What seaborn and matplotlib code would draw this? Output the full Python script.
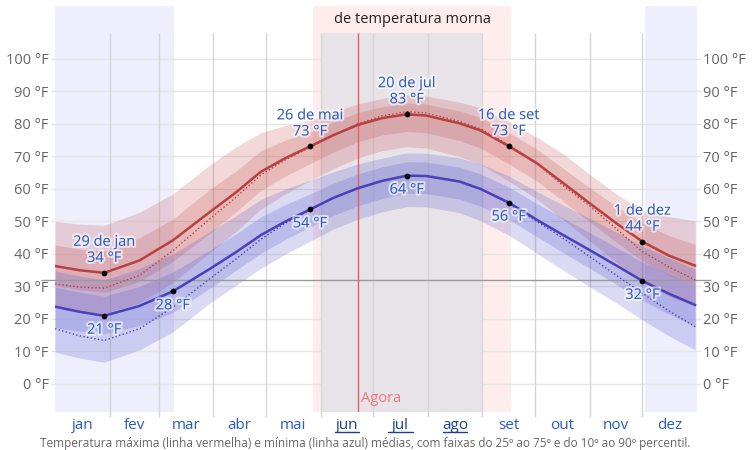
import numpy as np
import pandas as pd
import seaborn as sns
import matplotlib.pyplot as plt
import matplotlib.patheffects as pe

# day of year for each reading (0 = 1 jan)
days = [0, 14, 28, 48, 67, 88, 103, 117, 131, 145, 158, 172, 186,
        200, 211, 230, 242, 258, 274, 289, 304, 319, 334, 349, 364]

# average high / low (°F)
hi = [36.3, 35.0, 34.2, 38.0, 44.2, 52.9, 59.0, 65.3, 69.5, 73.1, 76.5, 79.7, 81.8,
      83.0, 82.6, 80.2, 78.0, 73.2, 67.9, 61.8, 55.6, 49.5, 43.8, 39.5, 36.4]
lo = [23.8, 22.2, 21.0, 24.0, 28.5, 35.4, 40.6, 45.8, 50.0, 53.7, 57.2, 60.2, 62.5,
      64.1, 64.0, 62.3, 60.0, 55.8, 50.5, 45.8, 41.2, 36.5, 31.7, 27.8, 24.3]

# dotted lines
hi_dot = [30.8, 29.8, 29.5, 33.4, 41.0, 50.8, 57.5, 64.3, 69.0, 72.8, 76.5, 80.0, 82.5,
          83.8, 83.4, 80.8, 78.5, 73.5, 67.9, 61.0, 54.8, 47.8, 40.7, 36.0, 32.0]
lo_dot = [17.0, 14.8, 13.4, 17.0, 23.6, 32.4, 38.5, 44.5, 49.5, 53.5, 57.2, 60.2, 62.5,
          64.1, 64.0, 62.3, 60.0, 55.5, 50.0, 44.8, 39.2, 33.5, 27.9, 22.5, 17.6]

# percentile bands for the high
hi_p90 = [50.0, 49.2, 48.8, 52.8, 58.5, 67.4, 73.0, 77.3, 79.5, 81.1, 83.5, 86.2, 87.8,
          89.0, 88.6, 86.7, 85.0, 80.7, 75.9, 70.8, 64.5, 58.5, 53.5, 51.5, 50.2]
hi_p75 = [42.8, 41.5, 41.0, 45.0, 50.7, 59.9, 65.5, 71.8, 75.0, 77.6, 80.5, 83.5, 85.3,
          86.5, 86.1, 84.0, 82.0, 77.4, 72.2, 66.3, 60.4, 54.7, 49.6, 45.7, 42.9]
hi_p25 = [30.3, 29.0, 28.2, 31.5, 37.7, 46.4, 53.0, 59.5, 64.0, 67.8, 71.3, 74.5, 76.6,
          77.7, 77.3, 74.9, 72.6, 67.7, 62.4, 56.2, 49.9, 43.7, 37.8, 33.5, 30.4]
hi_p10 = [23.8, 22.5, 21.7, 25.0, 31.2, 40.4, 47.0, 53.8, 58.5, 62.6, 66.2, 69.5, 71.8,
          73.0, 72.6, 70.0, 67.6, 62.4, 56.9, 50.5, 44.0, 37.5, 31.5, 27.0, 23.9]

# percentile bands for the low
lo_p90 = [34.8, 33.2, 32.0, 35.5, 40.0, 46.9, 51.8, 56.8, 60.0, 62.7, 65.2, 67.7, 69.5,
          71.1, 71.0, 69.6, 67.7, 64.0, 59.2, 55.0, 51.0, 46.8, 42.4, 38.8, 35.3]
lo_p75 = [29.8, 28.2, 27.0, 30.0, 34.5, 41.2, 46.2, 51.4, 55.2, 58.5, 61.7, 64.6, 66.8,
          68.4, 68.3, 66.7, 64.6, 60.6, 55.5, 51.0, 46.6, 42.1, 37.5, 33.8, 30.3]
lo_p25 = [17.3, 16.2, 15.5, 18.0, 22.0, 29.4, 35.0, 40.2, 44.5, 48.3, 51.8, 54.8, 57.1,
          58.7, 58.6, 56.9, 54.7, 50.6, 45.3, 40.4, 35.6, 30.7, 25.7, 21.5, 17.8]
lo_p10 = [9.8, 8.0, 6.7, 10.5, 16.0, 24.9, 30.4, 35.6, 40.0, 43.9, 47.6, 50.7, 53.0,
          54.6, 54.5, 52.7, 50.2, 45.8, 40.2, 35.0, 29.9, 25.0, 19.7, 14.8, 10.5]

month_names = ['jan', 'fev', 'mar', 'abr', 'mai', 'jun', 'jul', 'ago', 'set', 'out', 'nov', 'dez']
month_starts = [0, 31, 59, 90, 120, 151, 181, 212, 243, 273, 304, 334, 365]
summer_months = ['jun', 'jul', 'ago']

# labelled points: day, value, label, above?
ann_days = [28, 28, 67, 145, 145, 200, 200, 258, 258, 334, 334]
ann_vals = [34.2, 21.0, 28.5, 73.1, 53.7, 83.0, 64.1, 73.2, 55.8, 43.8, 31.7]
ann_text = ['29 de jan\n34 °F', '21 °F', '28 °F', '26 de mai\n73 °F', '54 °F',
            '20 de jul\n83 °F', '64 °F', '16 de set\n73 °F', '56 °F', '1 de dez\n44 °F', '32 °F']
ann_above = [True, False, False, True, False, True, False, True, False, True, False]

cold_seasons = [(0, 67.5), (335.5, 365)]
warm_season = (146.5, 259.5)
now_day = 172.5

df = pd.DataFrame({'day': days, 'hi': hi, 'lo': lo, 'hi_dot': hi_dot, 'lo_dot': lo_dot})

sns.set_style('white')
plt.rcParams['font.family'] = ['Open Sans', 'DejaVu Sans']

RED = '#b84040'
BLUE = '#4a40b8'
TXT_BLUE = '#2a5cc0'

fig = plt.figure(figsize=(7.53, 4.5), dpi=100)
ax = fig.add_axes([55 / 753, 38 / 450, 642 / 753, 406 / 450])
ax.set_xlim(0, 365)
ax.set_ylim(-8.615, 116.3)
for s in ax.spines.values():
    s.set_visible(False)

# season shading
for a, b in cold_seasons:
    ax.axvspan(a, b, color='#eeeefd', zorder=0, lw=0)
ax.axvspan(*warm_season, color='#ffeded', zorder=0, lw=0)
ax.fill_between([151, 243], -8.615, 108, color='#e8e2e9', zorder=0.5, lw=0)
ax.text(sum(warm_season) / 2, 112, 'de temperatura morna', ha='center', va='center',
        fontsize=10.5, color='#222222')

# grid
for t in range(0, 101, 10):
    ax.hlines(t, -2, 367, color='#e6e6e6', lw=1, zorder=1, clip_on=False)
ax.vlines(month_starts[1:-1], -10, 108, color='#d6d6d6', lw=1, zorder=1, clip_on=False)

# temperature bands
ax.fill_between(days, hi_p10, hi_p90, color=(0.75, 0.25, 0.25), alpha=0.2, lw=0, zorder=2)
ax.fill_between(days, hi_p25, hi_p75, color=(0.75, 0.25, 0.25), alpha=0.2, lw=0, zorder=2)
ax.fill_between(days, lo_p10, lo_p90, color=(0.28, 0.28, 0.78), alpha=0.2, lw=0, zorder=2)
ax.fill_between(days, lo_p25, lo_p75, color=(0.28, 0.28, 0.78), alpha=0.2, lw=0, zorder=2)

# freezing line and "now"
ax.hlines(32, -8, 373, color='#9a9a9a', lw=1, zorder=3, clip_on=False)
ax.vlines(now_day, -8.615, 108, color='#e06060', lw=1, zorder=3)
ax.text(now_day + 1.5, -4.5, 'Agora', color='#f07878', fontsize=10.5, va='center', ha='left')

sns.lineplot(data=df, x='day', y='hi_dot', ax=ax, color=RED, lw=1, ls=':', zorder=4)
sns.lineplot(data=df, x='day', y='lo_dot', ax=ax, color=BLUE, lw=1, ls=':', zorder=4)
sns.lineplot(data=df, x='day', y='hi', ax=ax, color=RED, lw=1.8, zorder=5)
sns.lineplot(data=df, x='day', y='lo', ax=ax, color=BLUE, lw=1.8, zorder=5)

ax.scatter(ann_days, ann_vals, s=10, color='black', zorder=6)
halo = [pe.withStroke(linewidth=3, foreground='white', alpha=0.6)]
for d, v, t, up in zip(ann_days, ann_vals, ann_text, ann_above):
    ax.annotate(t, (d, v), xytext=(0, 5 if up else -5), textcoords='offset points',
                ha='center', va='bottom' if up else 'top', fontsize=10.5,
                color=TXT_BLUE, linespacing=1.1, path_effects=halo, zorder=7)

# axes labels
ticks = list(range(0, 101, 10))
ax.set_yticks(ticks, [f'{t} °F' for t in ticks])
ax.tick_params(axis='y', length=0, pad=4.5, labelsize=10.5, labelcolor='#666666',
               labelleft=True, labelright=True)
mids = [(month_starts[i] + month_starts[i + 1]) / 2 for i in range(12)]
ax.set_xticks(mids, month_names)
ax.tick_params(axis='x', length=0, pad=4, labelsize=11)
for lab in ax.get_xticklabels():
    lab.set_color('#1d3f8a' if lab.get_text() in summer_months else TXT_BLUE)
for m, name in zip(mids, month_names):
    if name in summer_months:
        ax.plot([m - 7, m + 7], [-14.8, -14.8], color='#1d3f8a', lw=1, clip_on=False)
ax.set_xlabel('')
ax.set_ylabel('')

fig.text(40 / 753, 1 - 443 / 450,
         'Temperatura máxima (linha vermelha) e mínima (linha azul) médias, com faixas do 25º ao 75º e do 10º ao 90º percentil.',
         fontsize=8.5, color='#666666', va='center', ha='left')

fig.savefig('out.png', dpi=100)
